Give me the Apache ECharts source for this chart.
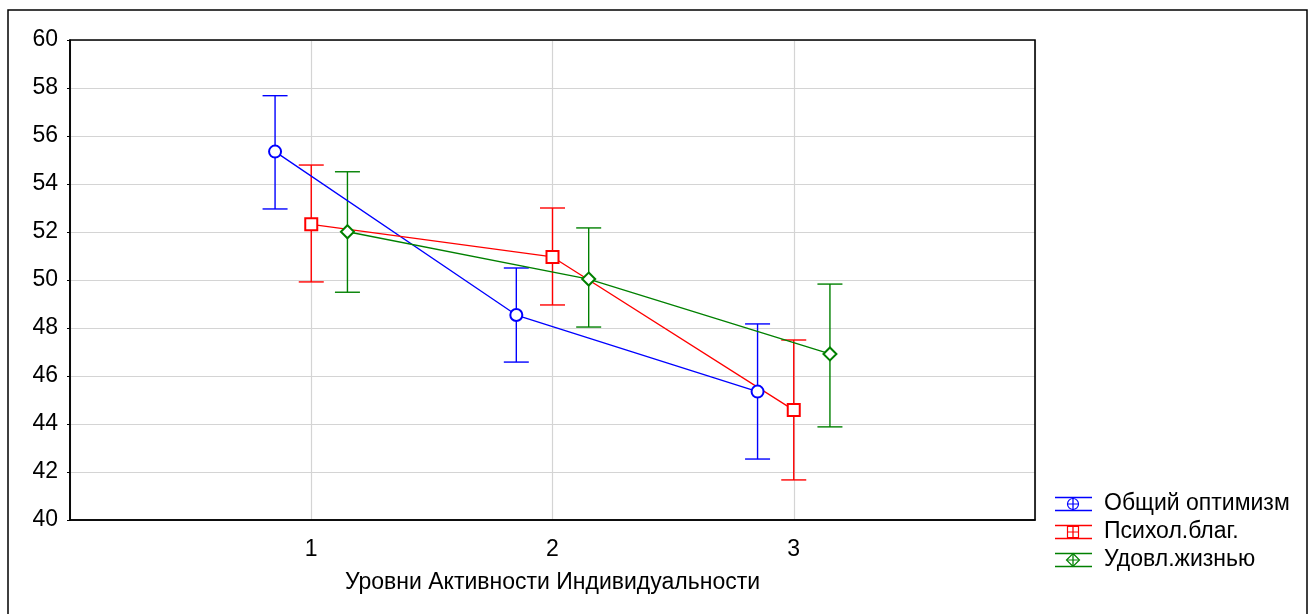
<!DOCTYPE html>
<html>
<head>
<meta charset="utf-8">
<script src="https://cdn.jsdelivr.net/npm/echarts@6/dist/echarts.min.js"></script>
<style>html,body{margin:0;padding:0;background:#fff}#c{width:1313px;height:614px}</style>
</head>
<body>
<div id="c"></div>
<script>
var categories = [1, 2, 3];
var yTicks = [40, 42, 44, 46, 48, 50, 52, 54, 56, 58, 60];
var seriesNames = ['Общий оптимизм', 'Психол.благ.', 'Удовл.жизнью'];
var optimismMean = [55.35, 48.54, 45.35];
var optimismLow  = [52.96, 46.58, 42.54];
var optimismHigh = [57.68, 50.50, 48.17];
var psychMean = [52.32, 50.96, 44.58];
var psychLow  = [49.92, 48.96, 41.67];
var psychHigh = [54.79, 53.00, 47.50];
var lifeMean = [52.01, 50.04, 46.92];
var lifeLow  = [49.49, 48.04, 43.88];
var lifeHigh = [54.51, 52.17, 49.83];
var xTitle = 'Уровни Активности Индивидуальности';

var colors = ['#0000ff', '#ff0000', '#008000'];
var offsets = [-0.15, 0, 0.15];
var symbols = ['circle', 'rect', 'diamond'];
var means = [optimismMean, psychMean, lifeMean];
var lows = [optimismLow, psychLow, lifeLow];
var highs = [optimismHigh, psychHigh, lifeHigh];
var FONT = 'Liberation Sans, Arial, sans-serif';
var FS = 23;

var series = [];
for (var s = 0; s < 3; s++) {
  (function (s) {
    var errData = categories.map(function (c, i) { return [c + offsets[s], lows[s][i], highs[s][i]]; });
    series.push({
      type: 'custom',
      name: seriesNames[s] + ' err',
      data: errData,
      encode: { x: 0, y: [1, 2] },
      z: 3,
      renderItem: function (params, api) {
        var x = api.value(0);
        var lo = api.coord([x, api.value(1)]);
        var hi = api.coord([x, api.value(2)]);
        var hw = 12.5;
        var st = { stroke: colors[s], lineWidth: 1.4 };
        return {
          type: 'group',
          children: [
            { type: 'line', shape: { x1: lo[0], y1: lo[1], x2: hi[0], y2: hi[1] }, style: st },
            { type: 'line', shape: { x1: lo[0] - hw, y1: lo[1], x2: lo[0] + hw, y2: lo[1] }, style: st },
            { type: 'line', shape: { x1: hi[0] - hw, y1: hi[1], x2: hi[0] + hw, y2: hi[1] }, style: st }
          ]
        };
      }
    });
    series.push({
      type: 'line',
      name: seriesNames[s],
      data: categories.map(function (c, i) { return [c + offsets[s], means[s][i]]; }),
      symbol: 'empty' + symbols[s],
      symbolSize: s === 2 ? 13 : 12,
      showAllSymbol: true,
      z: 4,
      lineStyle: { color: colors[s], width: 1.3 },
      itemStyle: { color: colors[s], borderColor: colors[s], borderWidth: 1.1 },
      animation: false
    });
  })(s);
}

var graphics = [];
graphics.push({ type: 'rect', z: 100, silent: true, shape: { x: 70, y: 40, width: 965, height: 480 }, style: { stroke: '#000', lineWidth: 1.6, fill: null } });
graphics.push({ type: 'rect', z: 100, silent: true, shape: { x: 8, y: 10, width: 1299, height: 620 }, style: { stroke: '#000', lineWidth: 1.5, fill: null } });
for (var k = 0; k < 3; k++) {
  var cy = 504 + 28 * k;
  var st = { stroke: colors[k], lineWidth: 1.3, fill: null };
  graphics.push({ type: 'line', shape: { x1: 1055, y1: cy - 6.5, x2: 1092, y2: cy - 6.5 }, style: st });
  graphics.push({ type: 'line', shape: { x1: 1055, y1: cy + 6.5, x2: 1092, y2: cy + 6.5 }, style: st });
  var mst = { stroke: colors[k], lineWidth: 1.2, fill: '#fff' };
  if (k === 0) graphics.push({ type: 'circle', shape: { cx: 1073, cy: cy, r: 5.5 }, style: mst });
  else if (k === 1) graphics.push({ type: 'rect', shape: { x: 1067.5, y: cy - 5.5, width: 11, height: 11 }, style: mst });
  else graphics.push({ type: 'polygon', shape: { points: [[1073, cy - 6.5], [1079.5, cy], [1073, cy + 6.5], [1066.5, cy]] }, style: mst });
  graphics.push({ type: 'line', shape: { x1: 1073, y1: cy - 6.5, x2: 1073, y2: cy + 6.5 }, style: { stroke: colors[k], lineWidth: 1.3 } });
  graphics.push({ type: 'line', shape: { x1: 1067, y1: cy, x2: 1079, y2: cy }, style: { stroke: colors[k], lineWidth: 1.0 } });
  graphics.push({ type: 'text', x: 1104, y: cy, style: { text: seriesNames[k], fill: '#000', font: FS + 'px ' + FONT, verticalAlign: 'middle', align: 'left' } });
}

var chart = echarts.init(document.getElementById('c'));
chart.setOption({
  animation: false,
  backgroundColor: '#fff',
  grid: { left: 70, right: 278, top: 40, bottom: 94, show: false },
  xAxis: {
    type: 'value', min: 0, max: 4, interval: 1,
    name: xTitle, nameLocation: 'middle', nameGap: 51,
    nameTextStyle: { color: '#000', fontSize: FS, fontFamily: FONT },
    axisLine: { show: true, lineStyle: { color: '#000', width: 1.5 } },
    axisTick: { show: false },
    splitLine: { show: true, lineStyle: { color: '#d4d4d4', width: 1.2 } },
    axisLabel: {
      color: '#000', fontSize: FS, fontFamily: FONT, margin: 18,
      formatter: function (v) { return categories.indexOf(v) >= 0 ? String(v) : ''; }
    }
  },
  yAxis: {
    type: 'value', min: yTicks[0], max: yTicks[yTicks.length - 1], interval: 2,
    axisLine: { show: true, lineStyle: { color: '#000', width: 1.5 } },
    axisTick: { show: true, length: 3, lineStyle: { color: '#000' } },
    splitLine: { show: true, lineStyle: { color: '#d4d4d4', width: 1.2 } },
    axisLabel: { color: '#000', fontSize: FS, fontFamily: FONT, margin: 12 }
  },
  series: series,
  graphic: graphics
});
</script>
</body>
</html>
